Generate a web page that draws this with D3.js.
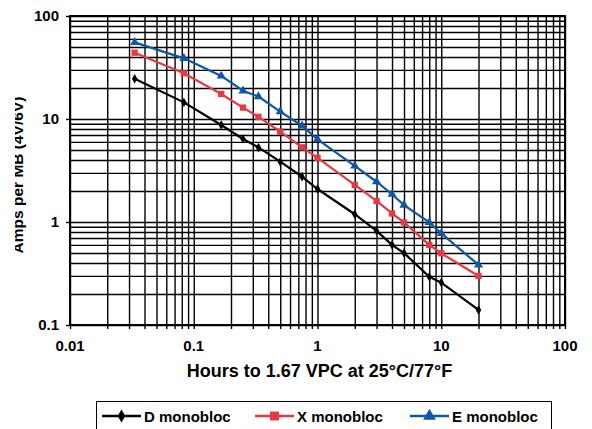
<!DOCTYPE html>
<html><head><meta charset="utf-8">
<script src="https://cdn.jsdelivr.net/npm/d3@7"></script>
<style>
html,body{margin:0;padding:0;background:#fff;}
svg{display:block;font-family:"Liberation Sans",Arial,Helvetica,sans-serif;font-weight:bold;}
</style></head>
<body>
<svg id="chart" width="592" height="429"></svg>
<script>
// ---- data ----
const hours = [0.0333, 0.0833, 0.1667, 0.25, 0.333, 0.5, 0.75, 1, 2, 3, 4, 5, 8, 10, 20];
const dMonobloc = [24.6, 14.5, 8.75, 6.4, 5.3, 3.85, 2.75, 2.09, 1.19, 0.82, 0.6, 0.5, 0.294, 0.258, 0.14];
const xMonobloc = [44, 27.8, 17.5, 12.9, 10.5, 7.53, 5.31, 4.2, 2.29, 1.6, 1.21, 0.99, 0.6, 0.497, 0.299];
const eMonobloc = [55.5, 38.8, 26.2, 18.8, 16.5, 11.8, 8.6, 6.35, 3.5, 2.46, 1.86, 1.46, 0.99, 0.776, 0.383];
const seriesNames = ["D monobloc", "X monobloc", "E monobloc"];
const xTickValues = [0.01, 0.1, 1, 10, 100];
const xTickLabels = ["0.01", "0.1", "1", "10", "100"];
const yTickValues = [0.1, 1, 10, 100];
const yTickLabels = ["0.1", "1", "10", "100"];
const xTitle = "Hours to 1.67 VPC at 25°C/77°F";
const yTitle = "Amps per MB (4V/6V)";

// ---- layout ----
const L = 70, R = 565, T = 16, B = 325;
const svg = d3.select("#chart");
const x = d3.scaleLog().domain([0.01, 100]).range([L, R]);
const y = d3.scaleLog().domain([0.1, 100]).range([B, T]);

const colors = ["#000000", "#e63a41", "#0b58a6"];
const shapes = [d3.symbolDiamond, d3.symbolSquare, d3.symbolTriangle];
const sizes = [26, 40, 36];
const legendSizes = [50, 80, 70];

// grid
const gx = svg.append("g").attr("transform", `translate(0,${B})`)
  .call(d3.axisBottom(x).tickValues(x.ticks()).tickSize(-(B - T)).tickFormat(""));
const gy = svg.append("g").attr("transform", `translate(${L},0)`)
  .call(d3.axisLeft(y).tickValues(y.ticks()).tickSize(-(R - L)).tickFormat(""));
[gx, gy].forEach(g => {
  g.select(".domain").remove();
  g.selectAll("line").attr("stroke", "#000").attr("stroke-width", 1.4);
});
// outward ticks
svg.append("g").attr("transform", `translate(0,${B})`)
  .call(d3.axisBottom(x).tickValues(x.ticks()).tickSize(4).tickFormat(""))
  .call(g => { g.select(".domain").remove(); g.selectAll("line").attr("stroke", "#000").attr("stroke-width", 1.4); });
svg.append("g").attr("transform", `translate(${L},0)`)
  .call(d3.axisLeft(y).tickValues(yTickValues).tickSize(4).tickFormat(""))
  .call(g => { g.select(".domain").remove(); g.selectAll("line").attr("stroke", "#000").attr("stroke-width", 1.4); });

// frame
svg.append("rect").attr("x", L).attr("y", T).attr("width", R - L).attr("height", B - T)
  .attr("fill", "none").attr("stroke", "#000").attr("stroke-width", 2);

// tick labels
svg.append("g").selectAll("text").data(xTickValues).join("text")
  .attr("x", d => x(d)).attr("y", B + 26).attr("text-anchor", "middle")
  .attr("font-size", 15).text((d, i) => xTickLabels[i]);
svg.append("g").selectAll("text").data(yTickValues).join("text")
  .attr("x", L - 11).attr("y", d => y(d)).attr("dy", "0.36em").attr("text-anchor", "end")
  .attr("font-size", 15).text((d, i) => yTickLabels[i]);

// axis titles
svg.append("text").attr("x", (L + R) / 2 + 2).attr("y", 377).attr("text-anchor", "middle")
  .attr("font-size", 18).text(xTitle);
svg.append("clipPath").attr("id", "yclip").append("rect")
  .attr("x", 15).attr("y", 0).attr("width", 50).attr("height", 429);
svg.append("g").attr("clip-path", "url(#yclip)")
  .append("text")
  .attr("transform", `translate(23,175) rotate(-90)`)
  .attr("text-anchor", "middle").attr("font-size", 15.5).text(yTitle);

// series
const allSeries = [dMonobloc, xMonobloc, eMonobloc];
const line = d3.line().x(d => x(d[0])).y(d => y(d[1]));
allSeries.forEach((vals, si) => {
  const pts = hours.map((h, i) => [h, vals[i]]);
  svg.append("path").datum(pts).attr("d", line)
    .attr("fill", "none").attr("stroke", colors[si]).attr("stroke-width", 2.2);
  svg.append("g").selectAll("path").data(pts).join("path")
    .attr("transform", d => `translate(${x(d[0])},${y(d[1])})`)
    .attr("d", d3.symbol(shapes[si], sizes[si])).attr("fill", colors[si]);
});

// legend
const lg = svg.append("g");
lg.append("rect").attr("x", 96.5).attr("y", 401.5).attr("width", 455).attr("height", 40)
  .attr("fill", "#fff").attr("stroke", "#000").attr("stroke-width", 1);
const legX = [102, 255, 410];
seriesNames.forEach((n, i) => {
  const g = lg.append("g").attr("transform", `translate(${legX[i]},416)`);
  g.append("line").attr("x1", 0).attr("x2", 39).attr("stroke", colors[i]).attr("stroke-width", 2.4);
  g.append("path").attr("transform", "translate(19.5,0)").attr("d", d3.symbol(shapes[i], legendSizes[i])).attr("fill", colors[i]);
  g.append("text").attr("x", 42).attr("y", 5.5).attr("font-size", 15).text(n);
});
</script>
</body></html>
